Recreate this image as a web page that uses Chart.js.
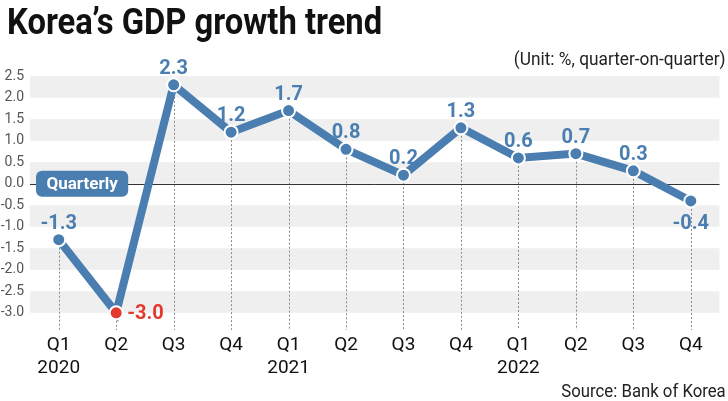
<!DOCTYPE html>
<html lang="en">
  <head>
    <meta charset="UTF-8" />
    <title>Korea's GDP growth trend</title>
    <style>
      body {
        margin: 0;
        background: #fff;
      }
      .wrap {
        position: relative;
        width: 728px;
        height: 401px;
        overflow: hidden;
        font-family: Roboto, "Noto Sans", sans-serif;
      }
      .wrap canvas {
        position: absolute;
        left: 0;
        top: 0;
      }
      .title {
        position: absolute;
        left: 7px;
        top: 1px;
        font-size: 36px;
        line-height: 42px;
        font-weight: bold;
        color: #111;
        white-space: nowrap;
        transform-origin: left top;
        transform: scaleX(0.91);
      }
      .unit {
        position: absolute;
        right: 2px;
        top: 48px;
        font-size: 18px;
        line-height: 21px;
        color: #222;
        white-space: nowrap;
        transform-origin: right top;
        transform: scaleX(0.96);
      }
      .source {
        position: absolute;
        right: 2px;
        top: 380px;
        font-size: 18px;
        line-height: 21px;
        color: #222;
        white-space: nowrap;
        transform-origin: right top;
        transform: scaleX(0.93);
      }
    </style>
    <script src="https://cdn.jsdelivr.net/npm/chart.js"></script>
  </head>
  <body>
    <div class="wrap">
      <canvas id="gdpChart" width="728" height="401"></canvas>
      <div class="title">Korea’s GDP growth trend</div>
      <div class="unit">(Unit: %, quarter-on-quarter)</div>
      <div class="source">Source: Bank of Korea</div>
    </div>

    <script>
      // quarter-on-quarter real GDP growth, %
      const quarters = ['Q1', 'Q2', 'Q3', 'Q4', 'Q1', 'Q2', 'Q3', 'Q4', 'Q1', 'Q2', 'Q3', 'Q4'];
      const years = ['2020', '', '', '', '2021', '', '', '', '2022', '', '', ''];
      const growth = [-1.3, -3.0, 2.3, 1.2, 1.7, 0.8, 0.2, 1.3, 0.6, 0.7, 0.3, -0.4];
      const yTicks = [-3.0, -2.5, -2.0, -1.5, -1.0, -0.5, 0.0, 0.5, 1.0, 1.5, 2.0, 2.5];
      const bands = [[2.0, 2.5], [1.0, 1.5], [0.0, 0.5], [-1.0, -0.5], [-2.0, -1.5], [-3.0, -2.5]];
      const seriesName = 'Quarterly';

      const BLUE = '#4a7eb0';
      const RED = '#e23b2e';
      const FONT = 'Roboto, "Noto Sans", sans-serif';

      const minIdx = growth.indexOf(Math.min(...growth));
      const lastIdx = growth.length - 1;
      const pointColors = growth.map((v, i) => (i === minIdx ? RED : BLUE));

      const backdrop = {
        id: 'backdrop',
        beforeDatasetsDraw(chart) {
          const { ctx, chartArea: a, scales: { x, y } } = chart;
          ctx.save();
          // shaded bands
          ctx.fillStyle = '#efefef';
          bands.forEach(([lo, hi]) => {
            const top = y.getPixelForValue(hi);
            const bot = y.getPixelForValue(lo);
            ctx.fillRect(a.left, top, a.right - a.left, bot - top);
          });
          // dotted drop lines
          ctx.strokeStyle = '#8a8a8a';
          ctx.lineWidth = 1;
          ctx.setLineDash([2, 2]);
          growth.forEach((v, i) => {
            const px = Math.round(x.getPixelForValue(i)) + 0.5;
            ctx.beginPath();
            ctx.moveTo(px, y.getPixelForValue(v));
            ctx.lineTo(px, a.bottom);
            ctx.stroke();
          });
          ctx.setLineDash([]);
          // zero line
          const zy = Math.round(y.getPixelForValue(0)) + 0.5;
          ctx.strokeStyle = '#333';
          ctx.beginPath();
          ctx.moveTo(a.left, zy);
          ctx.lineTo(a.right, zy);
          ctx.stroke();
          ctx.restore();
        },
        afterDatasetsDraw(chart) {
          const { ctx, chartArea: a, scales: { x, y } } = chart;
          ctx.save();
          // series tag on the zero line
          const zy = y.getPixelForValue(0);
          ctx.font = 'bold 17px ' + FONT;
          const tw = ctx.measureText(seriesName).width;
          const bx = a.left + 6, bw = tw + 21, bh = 26;
          ctx.fillStyle = BLUE;
          ctx.beginPath();
          ctx.roundRect(bx, zy - bh / 2, bw, bh, 6);
          ctx.fill();
          ctx.fillStyle = '#fff';
          ctx.textAlign = 'center';
          ctx.textBaseline = 'middle';
          ctx.fillText(seriesName, bx + bw / 2, zy + 1);

          // value labels
          ctx.font = 'bold 20px ' + FONT;
          growth.forEach((v, i) => {
            const px = x.getPixelForValue(i);
            const py = y.getPixelForValue(v);
            const txt = v.toFixed(1);
            ctx.fillStyle = pointColors[i];
            if (i === minIdx) {
              ctx.textAlign = 'left';
              ctx.fillText(txt, px + 11, py + 1);
            } else if (i === lastIdx) {
              ctx.textAlign = 'center';
              ctx.fillText(txt, px, py + 23);
            } else {
              ctx.textAlign = 'center';
              ctx.fillText(txt, px, py - 16);
            }
          });
          ctx.restore();
        }
      };

      new Chart(document.getElementById('gdpChart'), {
        type: 'line',
        data: {
          labels: quarters.map((q, i) => [q, years[i]]),
          datasets: [{
            label: seriesName,
            data: growth,
            borderColor: BLUE,
            borderWidth: 8,
            tension: 0,
            pointRadius: 6.5,
            pointHoverRadius: 6.5,
            pointBackgroundColor: pointColors,
            pointBorderColor: '#fff',
            pointBorderWidth: 2
          }]
        },
        options: {
          responsive: false,
          animation: false,
          layout: { padding: { top: 59, right: 1, left: 0, bottom: 0 } },
          plugins: {
            legend: { display: false },
            tooltip: { enabled: false },
            title: { display: false }
          },
          scales: {
            x: {
              offset: true,
              grid: { display: false, drawTicks: false },
              border: { display: false },
              ticks: {
                color: '#111',
                font: { family: FONT, size: 19 },
                padding: 4,
                maxRotation: 0,
                autoSkip: false
              },
              afterFit(s) { s.height = 71; }
            },
            y: {
              min: -3.4,
              max: 2.9,
              grid: { display: false, drawTicks: false },
              border: { display: false },
              afterBuildTicks(s) { s.ticks = yTicks.map(v => ({ value: v })); },
              ticks: {
                color: '#555',
                font: { family: FONT, size: 14 },
                padding: 6,
                callback: v => v.toFixed(1)
              },
              afterFit(s) { s.width = 30; }
            }
          }
        },
        plugins: [backdrop]
      });
    </script>
  </body>
</html>
